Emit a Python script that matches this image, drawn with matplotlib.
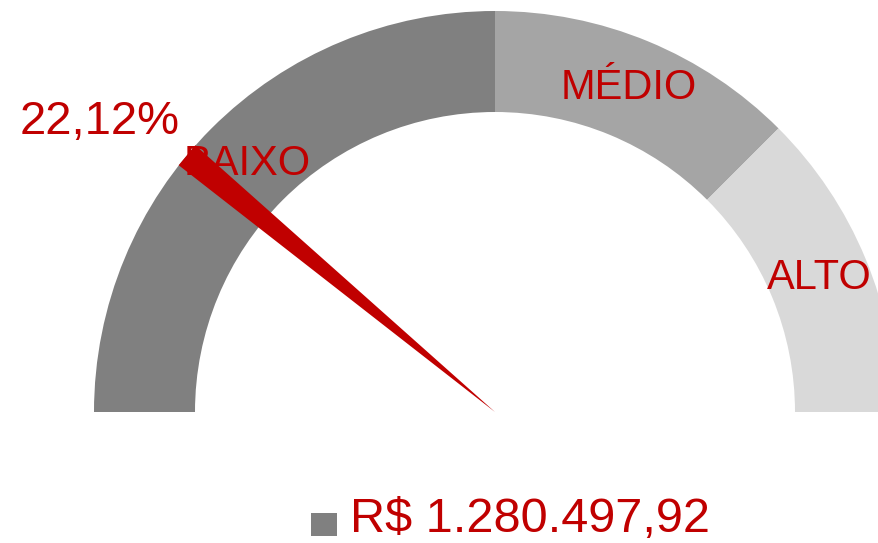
import matplotlib
matplotlib.use('Agg')
import matplotlib.pyplot as plt
import numpy as np
from matplotlib.patches import Wedge, Polygon, Rectangle

# faixas do medidor (em %)
band_edges = [0, 50, 75, 100]
band_labels = ['BAIXO', 'MÉDIO', 'ALTO']
band_colors = ['#808080', '#a5a5a5', '#d9d9d9']
value_pct = 22.12
value_label = '22,12%'
total_label = 'R$ 1.280.497,92'

RED = '#c00000'
FONT = ['Liberation Sans', 'DejaVu Sans']

W, H = 879, 543
CX, CY = 495, 543 - 412
R_OUT, R_IN = 401, 300


def pct_to_deg(p):
    return 180 - p / 100 * 180


fig = plt.figure(figsize=(W / 100, H / 100), dpi=100)
ax = fig.add_axes([0, 0, 1, 1])
ax.set_xlim(0, W)
ax.set_ylim(0, H)
ax.set_aspect('equal')
ax.axis('off')

for lo, hi, lab, col in zip(band_edges[:-1], band_edges[1:], band_labels, band_colors):
    ax.add_patch(Wedge((CX, CY), R_OUT, pct_to_deg(hi), pct_to_deg(lo),
                       width=R_OUT - R_IN, facecolor=col, edgecolor='none'))
    mid = np.radians(pct_to_deg((lo + hi) / 2))
    rm = (R_OUT + R_IN) / 2
    ax.text(CX + rm * np.cos(mid), CY + rm * np.sin(mid), lab, color=RED,
            fontsize=30, family=FONT, ha='center', va='center', zorder=2)

# ponteiro: fino no centro, largo na borda externa
a = np.radians(pct_to_deg(value_pct))
half = 13
tip = (CX, CY)
base = np.array([CX + R_OUT * np.cos(a), CY + R_OUT * np.sin(a)])
perp = np.array([-np.sin(a), np.cos(a)])
ax.add_patch(Polygon([tip, base + half * perp, base - half * perp],
                     closed=True, facecolor=RED, edgecolor='none', zorder=5))

ax.text(100, 543 - 122, value_label, color=RED, fontsize=34, family=FONT,
        ha='center', va='center')

# legenda
ax.add_patch(Rectangle((311, 543 - 536), 26, 23, facecolor='#808080', edgecolor='none'))
ax.text(350, 543 - 519, total_label, color=RED, fontsize=35, family=FONT,
        ha='left', va='center')

fig.savefig('out.png', dpi=100)
